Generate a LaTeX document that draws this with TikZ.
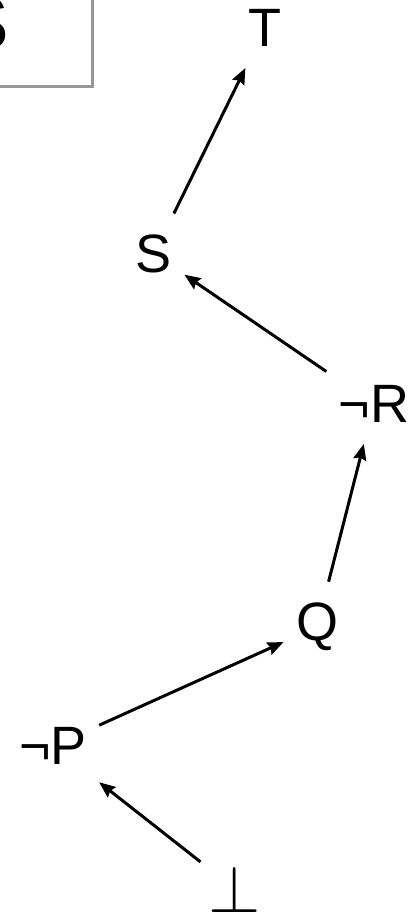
\documentclass[tikz,border=0pt]{standalone}
\usepackage{fontspec}
\setmainfont{Liberation Sans}
\usetikzlibrary{arrows.meta}
\tikzset{
  fml/.style={font=\fontsize{27}{30}\selectfont,inner xsep=6pt,inner ysep=10.5pt},
  imp/.style={line width=1.5pt,-{Stealth[length=8pt,width=6.5pt,inset=1pt]}}
}
\begin{document}
\begin{tikzpicture}[x=0.5pt,y=-0.5pt]
  \useasboundingbox (0,0) rectangle (407,914);
  \draw[line width=1.5pt,color={rgb,255:red,150;green,150;blue,155}] (-60,-60) rectangle (92,87);
  \node[anchor=base east,inner sep=0pt,font=\fontsize{38}{42}\selectfont] (box) at (10,50) {S};
  \node[fml] (t) at (265,28) {T};
  \node[fml] (s) at (154,254) {S};
  \node[fml] (nr) at (374,404) {¬R};
  \node[fml] (q) at (317,627) {Q};
  \node[fml] (np) at (53,746) {¬P};
  \node[fml,inner xsep=4pt,inner ysep=9pt] (bot) at (235,889) {\scalebox{1.35}{$\bot$}};
  \draw[imp] (bot) -- (np);
  \draw[imp] (np) -- (q);
  \draw[imp] (q) -- (nr);
  \draw[imp] (nr) -- (s);
  \draw[imp] (s) -- (t);
\end{tikzpicture}
\end{document}
